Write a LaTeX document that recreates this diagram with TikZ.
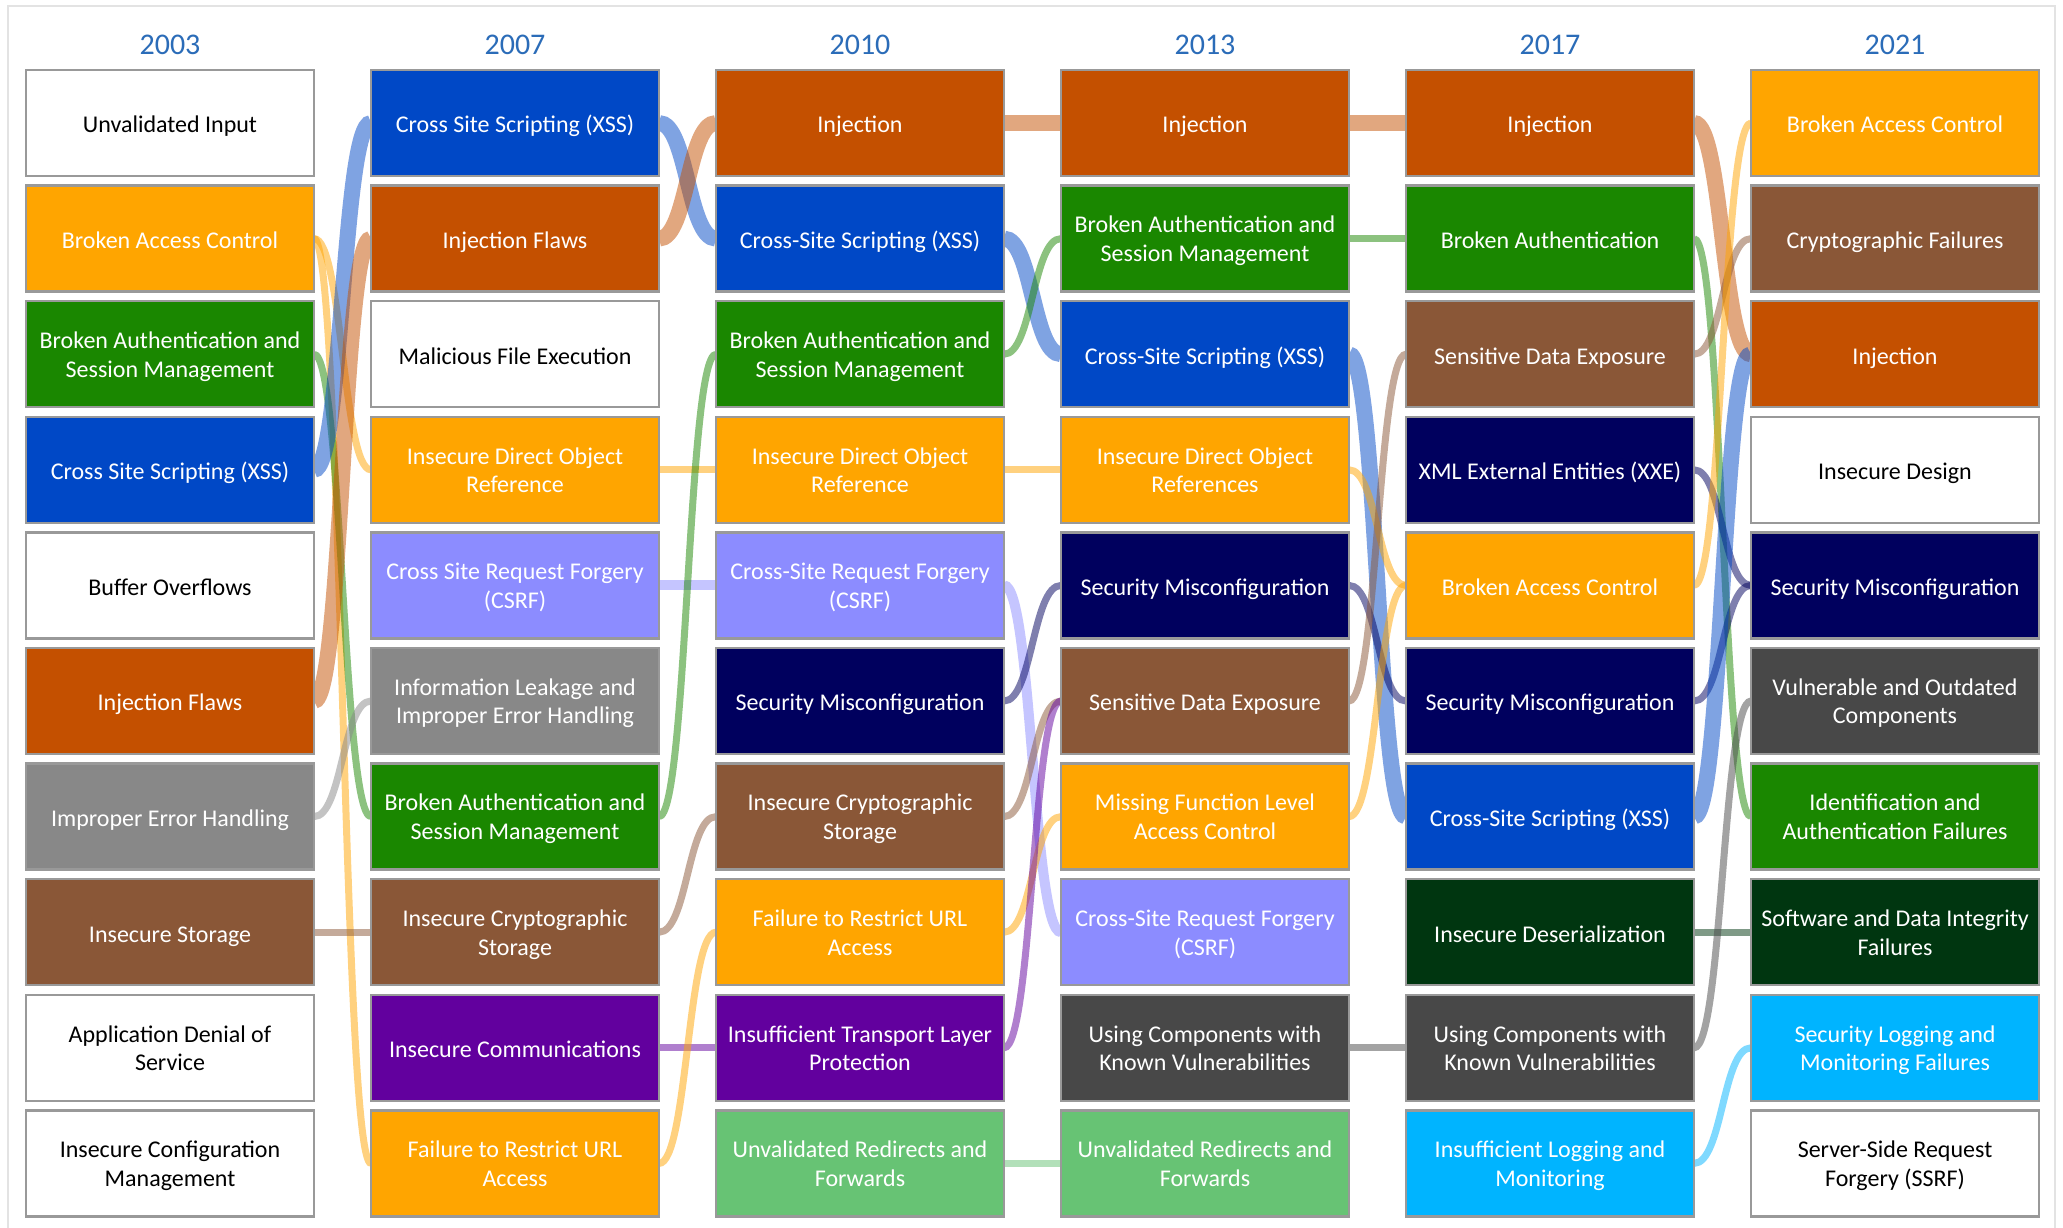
\documentclass[tikz,border=0pt]{standalone}
\usepackage{fontspec}
\setmainfont{Carlito}

% box fills
\definecolor{cInj}{HTML}{C45000}
\definecolor{cBac}{HTML}{FFA500}
\definecolor{cAuth}{HTML}{1A8700}
\definecolor{cXss}{HTML}{0048C6}
\definecolor{cErr}{HTML}{888888}
\definecolor{cStor}{HTML}{8A5737}
\definecolor{cCsrf}{HTML}{8C8CFF}
\definecolor{cMisc}{HTML}{00005E}
\definecolor{cComm}{HTML}{62009E}
\definecolor{cRedir}{HTML}{67C374}
\definecolor{cComp}{HTML}{484848}
\definecolor{cDeser}{HTML}{003610}
\definecolor{cLog}{HTML}{00B4FF}
\definecolor{cYear}{HTML}{2B6CB8}
\definecolor{boxline}{HTML}{999999}
\definecolor{frameline}{HTML}{E3E3E3}

\newcommand\lblfont{\fontsize{24}{28.5}\selectfont}
\newcommand\yrfont{\fontsize{30}{36}\selectfont}
% tall invisible strut opening the first of two label lines
\newcommand\hi{\rule{0pt}{23.5pt}}

\pgfdeclarelayer{canvas}
\pgfdeclarelayer{flows}
\pgfsetlayers{canvas,flows,main}

\tikzset{
  % invisible struts fix where the label lines sit inside each box
  box/.style={draw=boxline, line width=2.5pt, minimum width=288pt, minimum height=106pt,
    inner sep=0pt, outer sep=0pt, align=center, font=\lblfont, text=white,
    execute at begin node={\rule{0pt}{26pt}},
    execute at end node={\rule[-6.4pt]{0pt}{6.4pt}}},
  wbox/.style={box, fill=white, text=black},
  inj/.style={box, fill=cInj},
  bac/.style={box, fill=cBac},
  auth/.style={box, fill=cAuth},
  xss/.style={box, fill=cXss},
  errh/.style={box, fill=cErr},
  stor/.style={box, fill=cStor},
  csrf/.style={box, fill=cCsrf},
  misc/.style={box, fill=cMisc},
  comm/.style={box, fill=cComm},
  redir/.style={box, fill=cRedir},
  comp/.style={box, fill=cComp},
  deser/.style={box, fill=cDeser},
  logm/.style={box, fill=cLog},
  year/.style={text=cYear, font=\yrfont, inner sep=0pt},
  flow/.style={draw opacity=0.5, line cap=butt},
  fw/.style={flow, line width=16pt},
  fm/.style={flow, line width=10pt},
  fn/.style={flow, line width=7pt},
}

% S-shaped ribbon between the right side of one box and the left side of another
\newcommand\ribbon[4]{\draw[#1, draw=#2] (#3.east) .. controls +(28.5,0) and +(-28.5,0) .. (#4.west);}

\begin{document}
\begin{tikzpicture}[x=1pt, y=-1pt]
\useasboundingbox (0,0) rectangle (2063,1227);
\begin{pgfonlayer}{canvas}
  \fill[white] (0,0) rectangle (2063,1227);
  \draw[frameline, line width=2pt] (8,1240) -- (8,6) -- (2055,6) -- (2055,1240);
\end{pgfonlayer}

% year headings
\node[year] (ya) at (170,45) {2003};
\node[year] (yb) at (515,45) {2007};
\node[year] (yc) at (860,45) {2010};
\node[year] (yd) at (1205,45) {2013};
\node[year] (ye) at (1550,45) {2017};
\node[year] (yf) at (1895,45) {2021};

% 2003
\node[wbox]  (a1)  at (170,123)    {Unvalidated Input};
\node[bac]   (a2)  at (170,238.6)  {Broken Access Control};
\node[auth]  (a3)  at (170,354.2)  {\hi Broken Authentication and\\Session Management};
\node[xss]   (a4)  at (170,469.8)  {Cross Site Scripting (XSS)};
\node[wbox]  (a5)  at (170,585.4)  {Buffer Overflows};
\node[inj]   (a6)  at (170,701)    {Injection Flaws};
\node[errh]  (a7)  at (170,816.6)  {Improper Error Handling};
\node[stor]  (a8)  at (170,932.2)  {Insecure Storage};
\node[wbox]  (a9)  at (170,1047.8) {\hi Application Denial of\\Service};
\node[wbox]  (a10) at (170,1163.4) {\hi Insecure Configuration\\Management};

% 2007
\node[xss]   (b1)  at (515,123)    {Cross Site Scripting (XSS)};
\node[inj]   (b2)  at (515,238.6)  {Injection Flaws};
\node[wbox]  (b3)  at (515,354.2)  {Malicious File Execution};
\node[bac]   (b4)  at (515,469.8)  {\hi Insecure Direct Object\\Reference};
\node[csrf]  (b5)  at (515,585.4)  {\hi Cross Site Request Forgery\\(CSRF)};
\node[errh]  (b6)  at (515,701)    {\hi Information Leakage and\\Improper Error Handling};
\node[auth]  (b7)  at (515,816.6)  {\hi Broken Authentication and\\Session Management};
\node[stor]  (b8)  at (515,932.2)  {\hi Insecure Cryptographic\\Storage};
\node[comm]  (b9)  at (515,1047.8) {Insecure Communications};
\node[bac]   (b10) at (515,1163.4) {\hi Failure to Restrict URL\\Access};

% 2010
\node[inj]   (c1)  at (860,123)    {Injection};
\node[xss]   (c2)  at (860,238.6)  {Cross-Site Scripting (XSS)};
\node[auth]  (c3)  at (860,354.2)  {\hi Broken Authentication and\\Session Management};
\node[bac]   (c4)  at (860,469.8)  {\hi Insecure Direct Object\\Reference};
\node[csrf]  (c5)  at (860,585.4)  {\hi Cross-Site Request Forgery\\(CSRF)};
\node[misc]  (c6)  at (860,701)    {Security Misconfiguration};
\node[stor]  (c7)  at (860,816.6)  {\hi Insecure Cryptographic\\Storage};
\node[bac]   (c8)  at (860,932.2)  {\hi Failure to Restrict URL\\Access};
\node[comm]  (c9)  at (860,1047.8) {\hi Insufficient Transport Layer\\Protection};
\node[redir] (c10) at (860,1163.4) {\hi Unvalidated Redirects and\\Forwards};

% 2013
\node[inj]   (d1)  at (1205,123)    {Injection};
\node[auth]  (d2)  at (1205,238.6)  {\hi Broken Authentication and\\Session Management};
\node[xss]   (d3)  at (1205,354.2)  {Cross-Site Scripting (XSS)};
\node[bac]   (d4)  at (1205,469.8)  {\hi Insecure Direct Object\\References};
\node[misc]  (d5)  at (1205,585.4)  {Security Misconfiguration};
\node[stor]  (d6)  at (1205,701)    {Sensitive Data Exposure};
\node[bac]   (d7)  at (1205,816.6)  {\hi Missing Function Level\\Access Control};
\node[csrf]  (d8)  at (1205,932.2)  {\hi Cross-Site Request Forgery\\(CSRF)};
\node[comp]  (d9)  at (1205,1047.8) {\hi Using Components with\\Known Vulnerabilities};
\node[redir] (d10) at (1205,1163.4) {\hi Unvalidated Redirects and\\Forwards};

% 2017
\node[inj]   (e1)  at (1550,123)    {Injection};
\node[auth]  (e2)  at (1550,238.6)  {Broken Authentication};
\node[stor]  (e3)  at (1550,354.2)  {Sensitive Data Exposure};
\node[misc]  (e4)  at (1550,469.8)  {XML External Entities (XXE)};
\node[bac]   (e5)  at (1550,585.4)  {Broken Access Control};
\node[misc]  (e6)  at (1550,701)    {Security Misconfiguration};
\node[xss]   (e7)  at (1550,816.6)  {Cross-Site Scripting (XSS)};
\node[deser] (e8)  at (1550,932.2)  {Insecure Deserialization};
\node[comp]  (e9)  at (1550,1047.8) {\hi Using Components with\\Known Vulnerabilities};
\node[logm]  (e10) at (1550,1163.4) {\hi Insufficient Logging and\\Monitoring};

% 2021
\node[bac]   (f1)  at (1895,123)    {Broken Access Control};
\node[stor]  (f2)  at (1895,238.6)  {Cryptographic Failures};
\node[inj]   (f3)  at (1895,354.2)  {Injection};
\node[wbox]  (f4)  at (1895,469.8)  {Insecure Design};
\node[misc]  (f5)  at (1895,585.4)  {Security Misconfiguration};
\node[comp]  (f6)  at (1895,701)    {\hi Vulnerable and Outdated\\Components};
\node[auth]  (f7)  at (1895,816.6)  {\hi Identification and\\Authentication Failures};
\node[deser] (f8)  at (1895,932.2)  {\hi Software and Data Integrity\\Failures};
\node[logm]  (f9)  at (1895,1047.8) {\hi Security Logging and\\Monitoring Failures};
\node[wbox]  (f10) at (1895,1163.4) {\hi Server-Side Request\\Forgery (SSRF)};

\begin{pgfonlayer}{flows}
  % 2003 -> 2007
  \ribbon{fn}{cBac}{a2}{b4}
  \ribbon{fn}{cBac}{a2}{b10}
  \ribbon{fn}{cAuth}{a3}{b7}
  \ribbon{fw}{cXss}{a4}{b1}
  \ribbon{fw}{cInj}{a6}{b2}
  \ribbon{fn}{cErr}{a7}{b6}
  \ribbon{fn}{cStor}{a8}{b8}
  % 2007 -> 2010
  \ribbon{fw}{cXss}{b1}{c2}
  \ribbon{fw}{cInj}{b2}{c1}
  \ribbon{fn}{cBac}{b4}{c4}
  \ribbon{fm}{cCsrf}{b5}{c5}
  \ribbon{fn}{cAuth}{b7}{c3}
  \ribbon{fn}{cStor}{b8}{c7}
  \ribbon{fn}{cComm}{b9}{c9}
  \ribbon{fn}{cBac}{b10}{c8}
  % 2010 -> 2013
  \ribbon{fw}{cInj}{c1}{d1}
  \ribbon{fw}{cXss}{c2}{d3}
  \ribbon{fn}{cAuth}{c3}{d2}
  \ribbon{fn}{cBac}{c4}{d4}
  \ribbon{fm}{cCsrf}{c5}{d8}
  \ribbon{fn}{cMisc}{c6}{d5}
  \ribbon{fn}{cStor}{c7}{d6}
  \ribbon{fn}{cBac}{c8}{d7}
  \ribbon{fn}{cComm}{c9}{d6}
  \ribbon{fn}{cRedir}{c10}{d10}
  % 2013 -> 2017
  \ribbon{fw}{cInj}{d1}{e1}
  \ribbon{fn}{cAuth}{d2}{e2}
  \ribbon{fw}{cXss}{d3}{e7}
  \ribbon{fn}{cBac}{d4}{e5}
  \ribbon{fn}{cMisc}{d5}{e6}
  \ribbon{fn}{cStor}{d6}{e3}
  \ribbon{fn}{cBac}{d7}{e5}
  \ribbon{fn}{cComp}{d9}{e9}
  % 2017 -> 2021
  \ribbon{fw}{cInj}{e1}{f3}
  \ribbon{fn}{cAuth}{e2}{f7}
  \ribbon{fn}{cStor}{e3}{f2}
  \ribbon{fn}{cMisc}{e4}{f5}
  \ribbon{fn}{cBac}{e5}{f1}
  \ribbon{fn}{cMisc}{e6}{f5}
  \ribbon{fw}{cXss}{e7}{f3}
  \ribbon{fn}{cDeser}{e8}{f8}
  \ribbon{fn}{cComp}{e9}{f6}
  \ribbon{fn}{cLog}{e10}{f9}
\end{pgfonlayer}
\end{tikzpicture}
\end{document}
